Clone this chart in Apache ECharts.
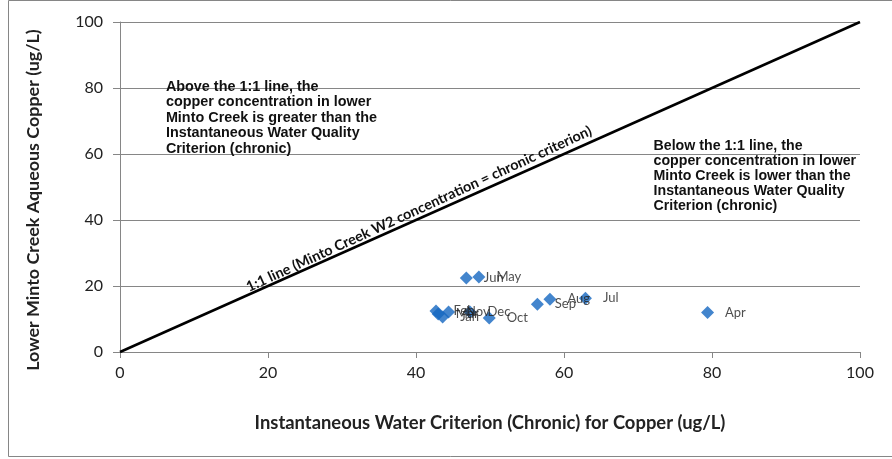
<!DOCTYPE html>
<html>
<head>
<meta charset="utf-8">
<script src="https://cdn.jsdelivr.net/npm/echarts@6/dist/echarts.min.js"></script>
<style>
html,body{margin:0;padding:0;background:#fff;}
#c{width:892px;height:459px;}
</style>
</head>
<body>
<div id="c"></div>
<script>
var months = ['Jun','May','Apr','Jul','Aug','Sep','Oct','Dec','Nov','Jan','Feb','Mar'];
var criterion = [46.8, 48.5, 79.4, 62.9, 58.1, 56.4, 49.9, 47.3, 44.4, 43.6, 42.7, 43.0];
var copper = [22.4, 22.7, 12.0, 16.3, 16.0, 14.5, 10.3, 12.1, 12.1, 10.6, 12.4, 11.5];
var oneToOne = [[0,0],[100,100]];
var xTicks = [0,20,40,60,80,100];
var yTicks = [0,20,40,60,80,100];

var chart = echarts.init(document.getElementById('c'), null, {renderer:'canvas'});
var labelFont = '"Liberation Sans", Arial, sans-serif';
var tickFont = 'Lato, "Liberation Sans", sans-serif';

var pts = criterion.map(function(v,i){ return {value:[v, copper[i]], name: months[i]}; });

var option = {
  animation:false,
  backgroundColor:'#fff',
  grid:{left:120, right:32, top:22, bottom:107},
  xAxis:{
    type:'value', min:0, max:100, interval:20,
    name:'Instantaneous Water Criterion (Chronic) for Copper (ug/L)',
    nameLocation:'middle', nameGap:62,
    nameTextStyle:{fontFamily:tickFont, fontSize:18.4, fontWeight:'bold', color:'#222'},
    axisLine:{show:true, lineStyle:{color:'#868686', width:1}},
    axisTick:{show:true, length:6, lineStyle:{color:'#868686'}},
    axisLabel:{fontFamily:tickFont, fontSize:16, color:'#222', margin:13,
      formatter:function(v){ return xTicks.indexOf(v)>=0 ? String(v) : ''; }},
    splitLine:{show:false}
  },
  yAxis:{
    type:'value', min:0, max:100, interval:20,
    name:'Lower Minto Creek Aqueous Copper (ug/L)',
    nameLocation:'middle', nameGap:78, nameRotate:90,
    nameTextStyle:{fontFamily:tickFont, fontSize:17.9, fontWeight:'bold', color:'#222', padding:[0,26,0,0]},
    axisLine:{show:true, lineStyle:{color:'#868686', width:1}},
    axisTick:{show:true, length:7, lineStyle:{color:'#868686'}},
    axisLabel:{fontFamily:tickFont, fontSize:16, color:'#222', margin:17,
      formatter:function(v){ return yTicks.indexOf(v)>=0 ? String(v) : ''; }},
    splitLine:{show:true, lineStyle:{color:'#868686', width:1}}
  },
  series:[
    {
      type:'line', data:oneToOne, symbol:'none', z:3,
      lineStyle:{color:'#000', width:2.5}
    },
    {
      type:'scatter', data:pts, symbol:'diamond', symbolSize:[13,13], z:4,
      itemStyle:{color:'#1466c0'},
      label:{show:true, position:'right', distance:11, formatter:'{b}',
        fontFamily:tickFont, fontSize:13, color:'#222'}
    }
  ]
};
chart.setOption(option);

function addText(){
  var mid = chart.convertToPixel({gridIndex:0}, [40.8,40.8]);
  var p1 = chart.convertToPixel({gridIndex:0}, [0,0]);
  var p2 = chart.convertToPixel({gridIndex:0}, [100,100]);
  var ang = Math.atan2(p1[1]-p2[1], p2[0]-p1[0]);
  var aboveTxt = 'Above the 1:1 line, the\ncopper concentration in lower\nMinto Creek is greater than the\nInstantaneous Water Quality\nCriterion (chronic)';
  var belowTxt = 'Below the 1:1 line, the\ncopper concentration in lower\nMinto Creek is lower than the\nInstantaneous Water Quality\nCriterion (chronic)';
  var a = chart.convertToPixel({gridIndex:0}, [6.2, 82.7]);
  var b = chart.convertToPixel({gridIndex:0}, [72.1, 64.5]);
  chart.setOption({
    graphic:[
      {type:'rect', shape:{x:8.5, y:0.5, width:900, height:456}, style:{fill:'none', stroke:'#868686', lineWidth:1}, z:-1, silent:true},
      {type:'text', x:a[0], y:a[1], z:10,
        style:{text:aboveTxt, fontFamily:labelFont, fontWeight:'bold', fontSize:14.4, lineHeight:15.5, fill:'#111', textVerticalAlign:'top'}},
      {type:'text', x:b[0], y:b[1], z:10,
        style:{text:belowTxt, fontFamily:labelFont, fontWeight:'bold', fontSize:14.2, lineHeight:14.8, fill:'#111', textVerticalAlign:'top'}},
      {type:'text', x:mid[0], y:mid[1]-2, rotation:ang+0.6*Math.PI/180, z:10,
        style:{text:'1:1 line (Minto Creek W2 concentration = chronic criterion)', fontFamily:tickFont, fontWeight:'bold', fontSize:14.4, fill:'#111', align:'center', verticalAlign:'bottom'}}
    ]
  });
}
addText();
</script>
</body>
</html>
